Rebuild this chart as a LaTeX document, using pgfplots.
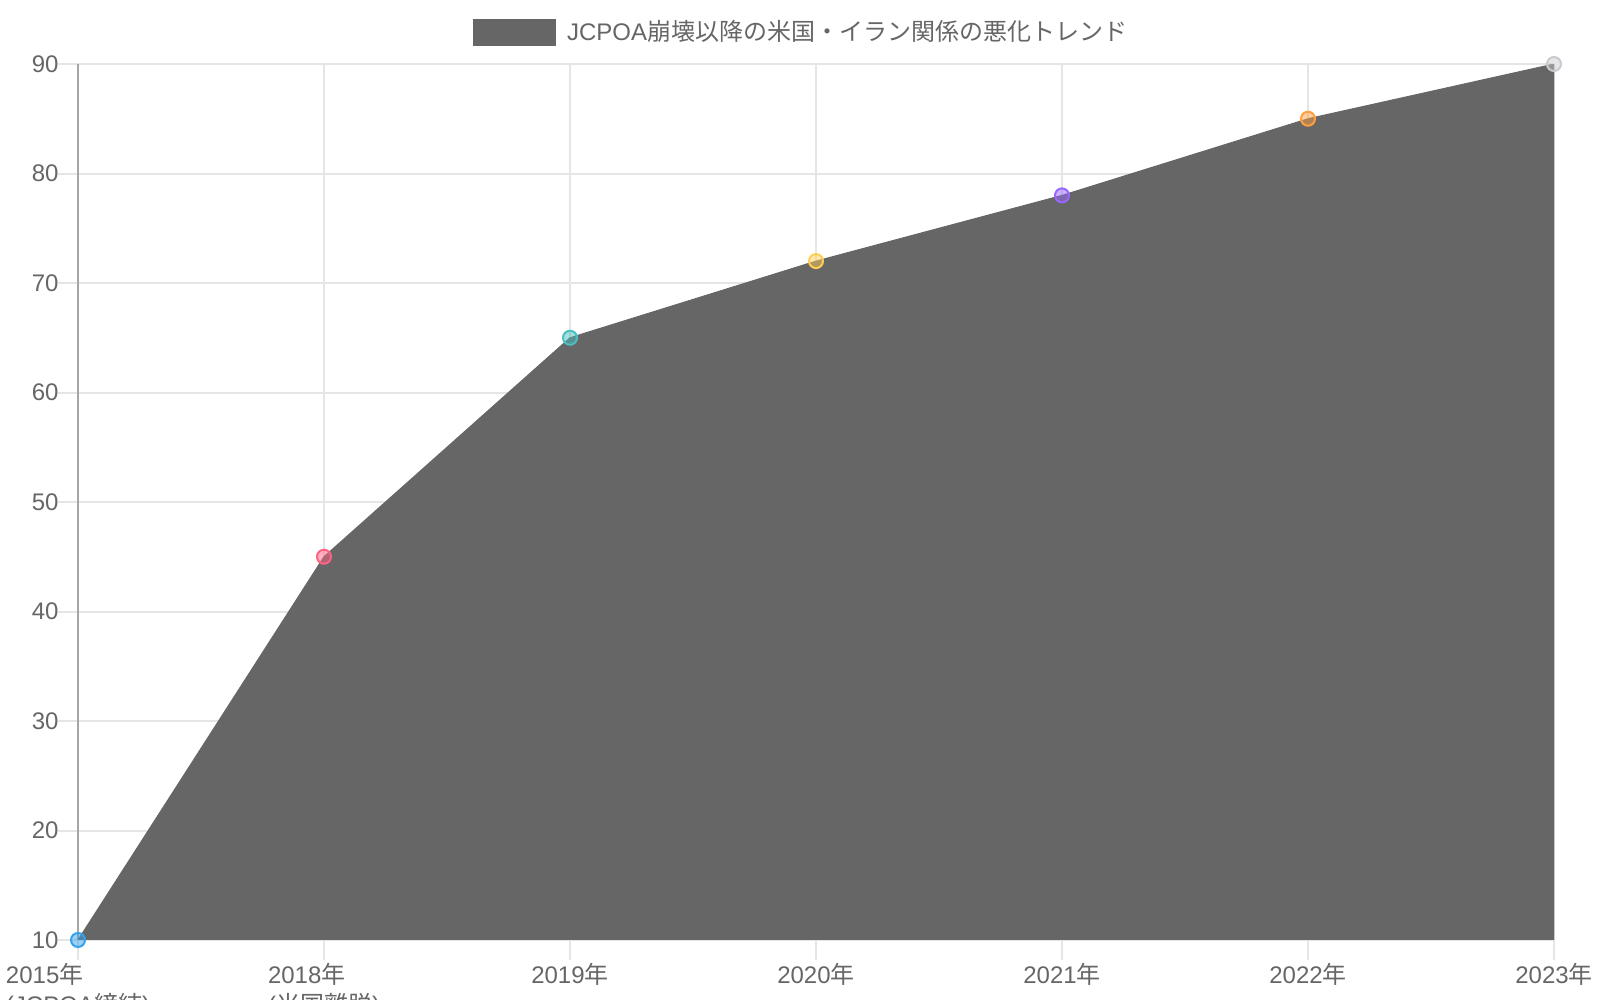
\documentclass[border=0pt]{standalone}
\usepackage{fontspec}
\setmainfont{Liberation Sans}
\newfontfamily\cjk{Noto Sans CJK JP}
\usepackage{pgfplots}
\pgfplotsset{compat=1.18}

\definecolor{txtgray}{HTML}{666666}
\definecolor{areagray}{HTML}{666666}
\definecolor{gridgray}{HTML}{E5E5E5}
\definecolor{axisgray}{HTML}{A6A6A6}
\definecolor{cBlue}{RGB}{54,162,235}
\definecolor{cRed}{RGB}{255,99,132}
\definecolor{cTeal}{RGB}{75,192,192}
\definecolor{cYellow}{RGB}{255,205,86}
\definecolor{cPurple}{RGB}{153,102,255}
\definecolor{cOrange}{RGB}{255,159,64}
\definecolor{cGrey}{RGB}{201,203,207}

\newcommand{\lbl}{\fontsize{12pt}{15pt}\selectfont}

\begin{document}
\begin{tikzpicture}
\begin{axis}[
  scale only axis,
  width=738pt, height=438pt,
  xmin=0, xmax=6, ymin=10, ymax=90,
  xtick={0,...,6},
  xticklabels={
    {2015{\cjk 年}\\(JCPOA{\cjk 締結})},
    {2018{\cjk 年}\\({\cjk 米国離脱})},
    {2019{\cjk 年}}, {2020{\cjk 年}}, {2021{\cjk 年}},
    {2022{\cjk 年}}, {2023{\cjk 年}}},
  ytick={10,20,...,90},
  axis lines=left,
  axis line style={-},
  x axis line style={gridgray, line width=1pt},
  y axis line style={axisgray, line width=1pt},
  grid=major,
  grid style={gridgray, line width=1pt},
  tick align=outside,
  major tick length=10pt,
  tick style={gridgray, line width=1pt},
  ticklabel style={font=\lbl, text=txtgray},
  x tick label style={align=left, inner sep=0pt, yshift=-1.5pt},
  y tick label style={inner sep=0pt, xshift=0.5pt},
  /pgf/number format/assume math mode=true,
  clip mode=individual,
  legend style={at={(0.4892,1.0365)}, anchor=center, draw=none, fill=none,
    inner sep=0pt, font=\lbl, text=txtgray,
    nodes={inner sep=0pt}},
  legend cell align=left,
]
\addplot[fill=areagray, draw=areagray, line width=0.5pt,
  legend image code/.code={\fill[areagray] (0pt,-6.5pt) rectangle (41pt,6.5pt);\path (46.5pt,0pt);}]
  coordinates {(0,10) (1,45) (2,65) (3,72) (4,78) (5,85) (6,90)} \closedcycle;
\addlegendentry{JCPOA{\cjk 崩壊以降の米国・イラン関係の悪化トレンド}}

\addplot[only marks, scatter, scatter src=explicit symbolic, forget plot,
  mark=*, mark size=3.5pt, line width=1pt,
  scatter/classes={
    a={draw=cBlue, fill=cBlue, fill opacity=0.5},
    b={draw=cRed, fill=cRed, fill opacity=0.5},
    c={draw=cTeal, fill=cTeal, fill opacity=0.5},
    d={draw=cYellow, fill=cYellow, fill opacity=0.5},
    e={draw=cPurple, fill=cPurple, fill opacity=0.5},
    f={draw=cOrange, fill=cOrange, fill opacity=0.5},
    g={draw=cGrey, fill=cGrey, fill opacity=0.5}}]
  table[meta=c] {
x y c
0 10 a
1 45 b
2 65 c
3 72 d
4 78 e
5 85 f
6 90 g
};
\end{axis}
\pgfresetboundingbox
\path[use as bounding box] (-39pt,-30pt) rectangle (761pt,470pt);
\end{tikzpicture}
\end{document}
